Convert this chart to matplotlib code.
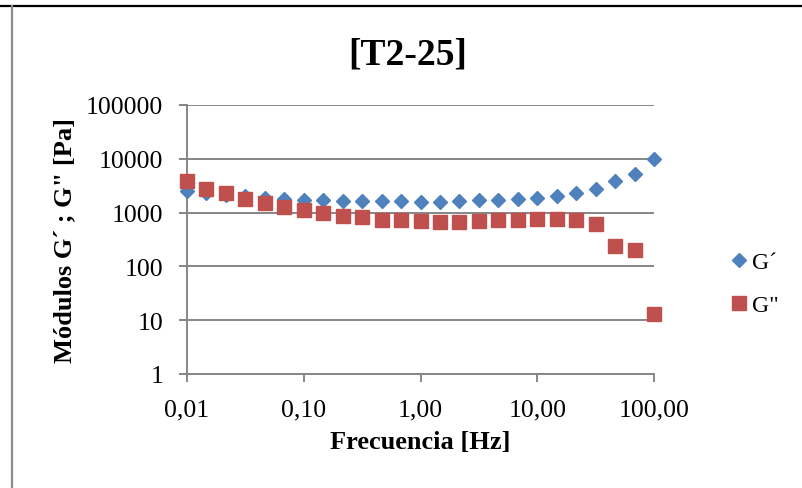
import numpy as np
import matplotlib.pyplot as plt
from matplotlib.lines import Line2D
from matplotlib.ticker import FixedLocator, FixedFormatter, NullLocator

# frequency sweep 0.01 - 100 Hz, 6 points per decade
freq = 10 ** (-2 + np.arange(25) / 6)

g_storage = [2500, 2300, 2150, 2000, 1850, 1800, 1750, 1720, 1660, 1640, 1640, 1640,
             1590, 1590, 1620, 1700, 1700, 1780, 1830, 2000, 2270, 2730, 3800, 5300, 10000]
g_loss = [3920, 2800, 2270, 1780, 1490, 1250, 1110, 980, 870, 830, 740, 720,
          690, 680, 680, 690, 720, 740, 760, 760, 720, 620, 235, 200, 13]

x_ticks = [0.01, 0.1, 1, 10, 100]
x_tick_labels = ["0,01", "0,10", "1,00", "10,00", "100,00"]
y_ticks = [1, 10, 100, 1000, 10000, 100000]
y_tick_labels = ["1", "10", "100", "1000", "10000", "100000"]

plt.rcParams["font.family"] = ["Liberation Serif", "DejaVu Serif"]

fig = plt.figure(figsize=(8.02, 4.89), dpi=100)
ax = fig.add_axes([187 / 802, 1 - 375 / 489, 467 / 802, 269 / 489])

grey = "#868686"
blue = "#4F81BD"
red = "#C0504D"

ax.plot(freq, g_storage, "D", color=blue, ms=7.6, mec=blue, label="G\u00b4",
        zorder=3, clip_on=False)
ax.plot(freq, g_loss, "s", color=red, ms=10.2, mec=red, label='G"',
        zorder=4, clip_on=False)

ax.set_xscale("log")
ax.set_yscale("log")
ax.set_xlim(0.01, 100)
ax.set_ylim(1, 100000)

ax.xaxis.set_major_locator(FixedLocator(x_ticks))
ax.xaxis.set_major_formatter(FixedFormatter(x_tick_labels))
ax.xaxis.set_minor_locator(NullLocator())
ax.yaxis.set_major_locator(FixedLocator(y_ticks))
ax.yaxis.set_major_formatter(FixedFormatter(y_tick_labels))
ax.yaxis.set_minor_locator(NullLocator())

ax.grid(axis="y", color=grey, lw=1.4)
ax.set_axisbelow(True)
for side in ["top", "right"]:
    ax.spines[side].set_visible(False)
for side in ["left", "bottom"]:
    ax.spines[side].set_color(grey)
    ax.spines[side].set_linewidth(1.4)
ax.tick_params(axis="both", which="major", direction="out", length=5.5, width=1.4,
               color=grey, labelsize=18.5, labelcolor="black")
ax.tick_params(axis="x", pad=12)
ax.tick_params(axis="y", pad=11.5)

ax.set_xlabel("Frecuencia [Hz]", fontsize=19, fontweight="bold", labelpad=7)
ax.set_ylabel('M\u00f3dulos G\u00b4 ; G" [Pa]', fontsize=19, fontweight="bold", labelpad=7)

fig.text(408 / 802, 1 - 55 / 489, "[T2-25]", fontsize=27, fontweight="bold",
         ha="center", va="center")

fig.legend(loc="center left", bbox_to_anchor=(731 / 802, 1 - 285 / 489), frameon=False,
           fontsize=17, handlelength=0.7, handletextpad=0.2, labelspacing=0.9,
           borderaxespad=0, borderpad=0)

# surrounding table-cell border
fig.add_artist(Line2D([0, 1], [1 - 6.5 / 489, 1 - 6.5 / 489], color="black", lw=1.6))
fig.add_artist(Line2D([12 / 802, 12 / 802], [0, 1 - 7 / 489], color="#8c8c8c", lw=1.6))

fig.savefig("out.png", dpi=100)
